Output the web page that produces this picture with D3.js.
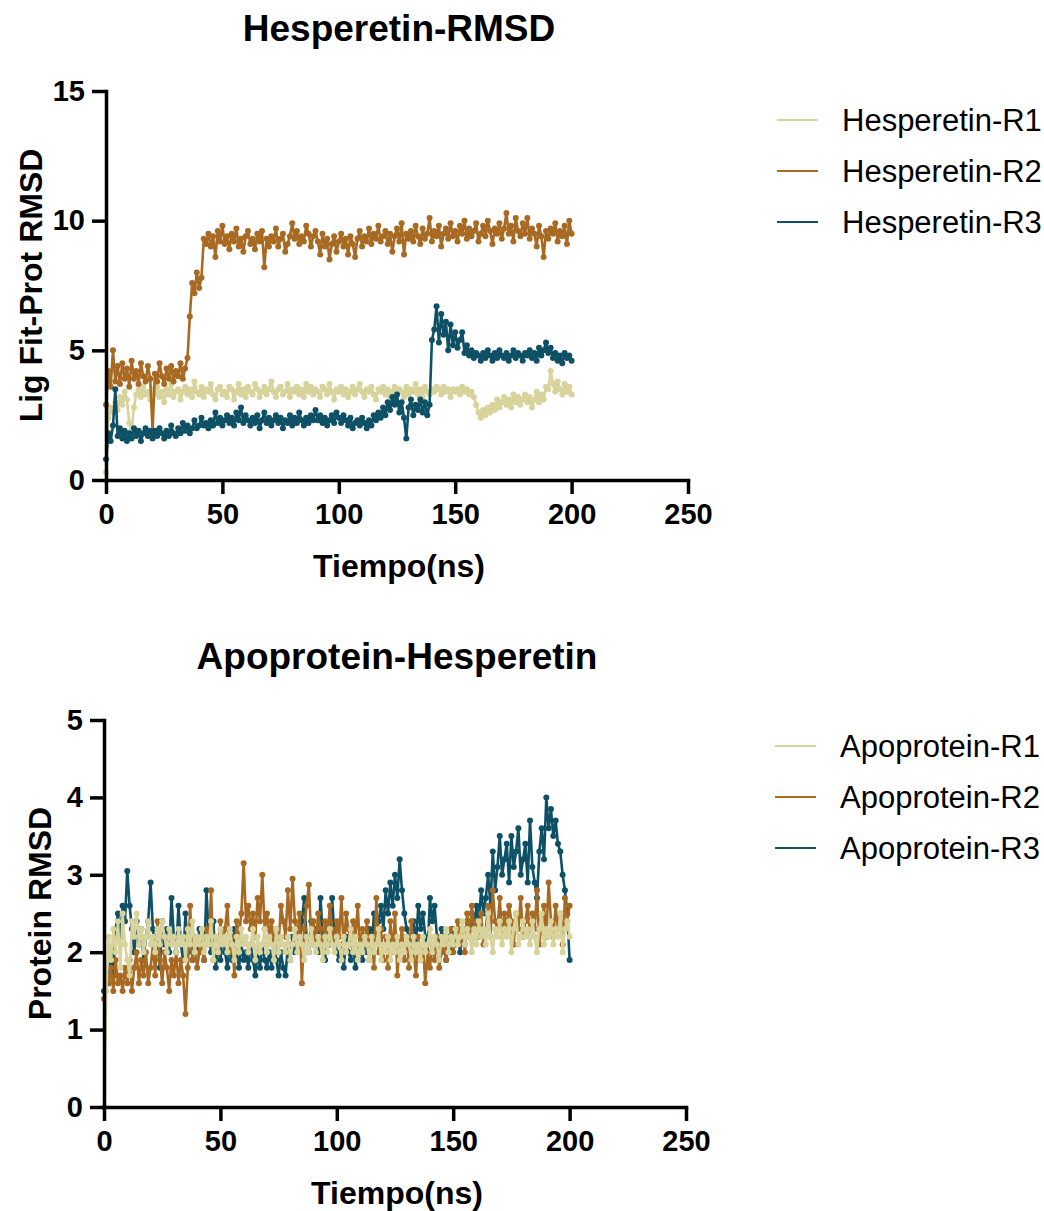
<!DOCTYPE html>
<html>
<head>
<meta charset="utf-8">
<script src="https://cdn.jsdelivr.net/npm/d3@7"></script>
<style>
body { margin: 0; background: #fff; }
text { font-family: "Liberation Sans", Arial, Helvetica, sans-serif; }
</style>
</head>
<body>
<script>
// time axis, one sample per ns
var timeNs = d3.range(0, 201);
var xTicks = [0, 50, 100, 150, 200, 250];

// Hesperetin ligand RMSD
var hesR1 = [0.3,
 2.4, 2.8, 2.6, 3.0, 2.7, 3.2, 2.9, 3.4, 3.1, 2.2,
 1.9, 2.8, 3.3, 3.5, 3.2, 3.6, 3.3, 3.4, 3.1, 3.5,
 3.3, 3.6, 3.2, 3.4, 3.0, 3.5, 3.3, 3.7, 3.2, 3.4,
 3.5, 3.1, 3.4, 3.6, 3.3, 3.5, 3.2, 3.8, 3.4, 3.3,
 3.6, 3.2, 3.5, 3.4, 3.7, 3.3, 3.1, 3.5, 3.6, 3.3,
 3.4, 3.2, 3.6, 3.5, 3.1, 3.4, 3.7, 3.3, 3.5, 3.2,
 3.6, 3.4, 3.3, 3.7, 3.5, 3.2, 3.4, 3.6, 3.3, 3.5,
 3.8, 3.4, 3.2, 3.5, 3.6, 3.3, 3.4, 3.7, 3.2, 3.5,
 3.4, 3.6, 3.3, 3.5, 3.2, 3.7, 3.4, 3.6, 3.3, 3.5,
 3.4, 3.2, 3.6, 3.5, 3.3, 3.7, 3.4, 3.1, 3.5, 3.4,
 3.6, 3.3, 3.5, 3.2, 3.4, 3.6, 3.3, 3.5, 3.7, 3.4,
 3.2, 3.5, 3.4, 3.6, 3.3, 3.1, 3.5, 3.4, 3.6, 3.3,
 3.5, 3.2, 3.4, 3.6, 3.3, 3.5, 3.4, 3.2, 3.6, 3.3,
 3.5, 3.4, 3.7, 3.3, 3.5, 3.2, 3.6, 3.4, 3.3, 3.5,
 3.4, 3.6, 3.5, 3.3, 3.6, 3.4, 3.5, 3.2, 3.5, 3.4,
 3.5, 3.3, 3.6, 3.4, 3.5, 3.3, 3.4, 3.2, 2.9, 2.6,
 2.4, 2.7, 2.5, 2.8, 2.6, 2.9, 2.7, 3.1, 2.8, 3.0,
 3.2, 2.9, 3.1, 2.8, 3.3, 3.0, 3.2, 2.9, 3.1, 3.3,
 3.0, 3.2, 2.8, 3.1, 3.4, 3.0, 3.3, 3.1, 3.6, 3.5,
 4.2, 3.7, 3.4, 3.8, 3.5, 3.3, 3.7, 3.4, 3.6, 3.3];
var hesR2 = [2.9,
 4.2, 3.6, 5.0, 3.8, 4.4, 3.7, 4.5, 3.9, 4.3, 3.6,
 4.6, 3.9, 4.2, 3.7, 4.5, 4.0, 3.8, 4.4, 3.9, 1.9,
 4.1, 3.8, 4.5, 4.0, 3.7, 4.3, 3.9, 4.4, 3.8, 4.2,
 4.0, 4.5, 3.9, 4.3, 4.7, 6.3, 7.6, 7.2, 8.0, 7.4,
 7.8, 9.3, 9.1, 9.5, 9.0, 9.4, 8.6, 9.6, 9.2, 9.8,
 9.1, 9.4, 8.9, 9.5, 9.2, 9.7, 9.0, 9.3, 8.8, 9.4,
 9.6, 9.1, 9.3, 8.9, 9.5, 9.2, 9.6, 8.2, 9.3, 9.0,
 9.4, 9.2, 9.7, 9.0, 9.3, 9.5, 8.8, 9.1, 9.4, 9.9,
 9.3, 9.6, 9.1, 9.4, 9.2, 9.8, 9.5, 9.0, 9.4, 9.6,
 9.2, 8.7, 9.5, 9.0, 9.3, 8.5, 9.1, 9.4, 8.8, 9.2,
 9.5, 9.0, 9.3, 8.7, 9.4, 9.1, 8.6, 9.3, 9.6, 9.0,
 9.4, 9.2, 9.7, 9.1, 9.5, 9.3, 9.8, 9.2, 9.4, 9.6,
 9.1, 9.5, 8.8, 9.4, 9.7, 9.2, 9.9, 8.7, 9.5, 9.3,
 9.6, 9.2, 9.8, 9.4, 9.1, 9.7, 9.3, 9.5, 10.1, 9.2,
 9.6, 9.4, 9.8, 9.0, 9.5, 9.7, 9.3, 9.9, 9.4, 9.6,
 9.2, 9.8, 9.5, 10.0, 9.3, 9.7, 9.4, 9.6, 9.9, 9.2,
 9.5, 9.8, 9.4, 10.0, 9.6, 9.1, 9.7, 9.5, 9.9, 9.3,
 9.7, 10.3, 9.5, 9.8, 9.2, 10.1, 9.6, 9.4, 9.9, 9.5,
 10.1, 9.3, 9.7, 9.5, 9.0, 9.8, 9.4, 8.6, 9.6, 9.3,
 9.7, 9.5, 9.9, 9.2, 9.6, 9.4, 9.8, 9.1, 10.0, 9.5];
var hesR3 = [0.8,
 1.8, 1.5, 2.1, 3.5, 1.7, 2.0, 1.6, 1.9, 1.5, 1.8,
 1.6, 2.0, 1.7, 1.9, 1.5, 1.8, 2.0, 1.7, 1.9, 1.6,
 1.9, 1.7, 2.0, 1.8, 1.6, 1.9, 1.7, 2.1, 1.8, 1.7,
 2.0, 1.8, 2.2, 1.9, 2.1, 1.8, 2.0, 2.3, 2.0, 2.1,
 2.4, 2.1, 2.2, 2.0, 2.3, 2.1, 2.6, 2.2, 2.4, 2.1,
 2.3, 2.5, 2.2, 2.4, 2.1, 2.6, 2.3, 2.8, 2.2, 2.5,
 2.3, 2.1, 2.4, 2.2, 2.5, 2.0, 2.3, 2.6, 2.2, 2.4,
 2.1, 2.3, 2.5, 2.2, 2.4, 2.0, 2.3, 2.2, 2.5, 2.1,
 2.4, 2.2, 2.6, 2.3, 2.1, 2.4, 2.2, 2.5, 2.3, 2.7,
 2.3, 2.5, 2.2, 2.4, 2.1, 2.3, 2.5, 2.2, 2.6, 2.4,
 2.2, 2.5, 2.3, 2.1, 2.4, 2.0, 2.2, 2.3, 2.1, 2.4,
 2.2, 2.0, 2.3, 2.1, 2.5, 2.3, 2.6, 2.4, 2.8, 2.5,
 3.0, 2.7, 3.2, 2.9, 3.3, 2.6, 3.0, 2.4, 1.6, 2.8,
 3.1, 2.5, 2.9, 2.7, 3.1, 2.6, 3.0, 2.5, 2.9, 5.4,
 5.8, 6.7, 5.3, 6.4, 5.6, 6.1, 5.0, 6.0, 5.2, 5.7,
 5.1, 5.4, 5.7, 4.9, 5.2, 4.8, 5.0, 4.7, 4.9, 4.8,
 4.6, 4.9, 4.7, 5.0, 4.8, 4.6, 4.9, 4.7, 5.0, 4.8,
 4.7, 4.9, 4.6, 4.8, 5.0, 4.7, 4.9, 4.8, 4.6, 4.9,
 4.8, 5.0, 4.7, 4.9, 4.6, 5.1, 4.8, 5.0, 5.3, 4.9,
 5.1, 4.7, 4.9, 4.6, 4.8, 4.5, 4.9, 4.7, 4.8, 4.6];

// Apoprotein RMSD
var apoR1 = [0.0,
 1.5, 2.2, 1.9, 2.3, 2.0, 2.4, 1.8, 2.5, 2.1, 1.9,
 1.7, 2.4, 2.2, 2.5, 2.1, 2.3, 2.0, 2.2, 2.4, 2.1,
 2.2, 2.0, 2.3, 2.1, 2.4, 2.2, 2.0, 2.3, 2.1, 2.2,
 2.0, 2.3, 2.1, 2.2, 1.9, 2.3, 2.1, 2.4, 2.0, 2.2,
 2.1, 2.3, 2.0, 2.2, 2.1, 2.4, 1.9, 2.2, 2.0, 2.3,
 2.1, 2.2, 2.0, 2.3, 2.1, 1.9, 2.2, 2.0, 2.3, 2.1,
 2.2, 2.0, 2.1, 2.3, 1.9, 2.2, 2.0, 2.1, 2.3, 2.0,
 2.2, 2.1, 1.9, 2.3, 2.0, 2.2, 2.1, 2.0, 2.2, 1.9,
 2.1, 2.3, 2.0, 2.2, 2.1, 1.9, 2.2, 2.0, 2.3, 2.1,
 2.0, 2.2, 2.1, 1.9, 2.2, 2.0, 2.3, 2.1, 2.0, 2.2,
 2.1, 1.9, 2.2, 2.0, 2.1, 2.3, 2.0, 2.2, 1.9, 2.1,
 2.0, 2.2, 2.1, 1.9, 2.2, 2.0, 2.1, 2.3, 1.9, 2.1,
 2.0, 2.2, 1.9, 2.1, 2.0, 2.2, 1.9, 2.1, 2.0, 2.2,
 2.1, 1.9, 2.2, 2.0, 2.1, 1.9, 2.2, 2.0, 2.1, 2.3,
 2.0, 2.2, 2.1, 1.9, 2.2, 2.1, 2.3, 2.0, 2.2, 2.1,
 2.3, 2.1, 2.2, 2.4, 2.1, 2.3, 2.2, 2.0, 2.3, 2.1,
 2.4, 2.2, 2.3, 2.1, 2.5, 2.2, 2.0, 2.3, 2.2, 2.4,
 2.1, 2.3, 2.2, 2.4, 2.0, 2.3, 2.5, 2.1, 2.2, 2.4,
 2.2, 2.3, 2.1, 2.4, 2.2, 2.0, 2.3, 2.5, 2.1, 2.3,
 2.2, 2.4, 2.1, 2.3, 2.2, 2.5, 2.0, 2.3, 2.4, 2.2];
var apoR2 = [1.4,
 1.7, 1.6, 1.8, 1.5, 1.9, 1.6, 1.7, 1.5, 1.8, 1.6,
 1.9, 1.5, 1.8, 2.0, 1.6, 1.9, 1.7, 2.0, 1.6, 1.8,
 2.1, 1.7, 2.4, 1.9, 1.6, 2.0, 1.8, 1.5, 1.9, 1.7,
 2.0, 1.6, 1.9, 1.7, 1.2, 1.8, 2.6, 1.9, 2.1, 1.8,
 2.0, 2.2, 1.9, 2.3, 2.1, 2.8, 1.9, 2.2, 2.0, 2.4,
 2.1, 2.3, 2.6, 2.0, 2.2, 1.7, 2.4, 2.2, 2.5, 3.15,
 2.4, 2.6, 2.3, 2.5, 2.2, 2.7, 2.4, 3.0, 2.3, 2.5,
 2.2, 2.4, 2.0, 2.3, 2.1, 2.6, 2.4, 2.2, 2.8, 2.3,
 2.95, 2.4, 2.2, 2.5, 1.6, 2.3, 2.6, 2.87, 2.2, 2.4,
 2.1, 2.5, 2.3, 2.0, 2.4, 2.2, 2.6, 2.3, 2.1, 2.4,
 2.2, 2.7, 2.0, 2.5, 2.3, 2.1, 2.4, 2.2, 2.6, 2.0,
 2.3, 2.1, 2.4, 1.9, 2.2, 1.8, 2.7, 2.0, 2.3, 1.9,
 2.2, 1.8, 2.4, 2.0, 2.5, 1.7, 2.1, 2.3, 1.9, 2.2,
 1.8, 2.4, 2.0, 1.7, 2.2, 1.9, 2.1, 1.6, 2.0, 1.8,
 2.1, 1.9, 2.2, 1.8, 2.0, 2.2, 1.9, 2.1, 2.3, 2.0,
 2.2, 2.4, 2.1, 2.3, 2.0, 2.5, 2.2, 2.6, 2.3, 2.4,
 2.2, 2.5, 2.1, 2.3, 2.6, 2.2, 2.8, 2.4, 2.3, 2.7,
 2.2, 2.5, 2.3, 2.6, 2.4, 2.1, 2.5, 2.3, 2.7, 2.2,
 2.4, 2.6, 2.2, 2.5, 2.3, 2.8, 2.1, 2.4, 2.6, 2.2,
 2.9, 2.4, 2.2, 2.6, 2.3, 2.5, 2.1, 2.7, 2.4, 2.6];
var apoR3 = [1.5,
 1.8, 1.6, 2.0, 1.7, 2.3, 2.5, 2.2, 2.6, 2.4, 3.05,
 2.6, 2.3, 2.0, 2.4, 2.1, 2.3, 1.9, 2.2, 2.4, 2.9,
 2.3, 2.0, 2.2, 1.8, 2.4, 2.1, 2.3, 2.0, 2.7, 2.2,
 2.0, 2.6, 2.1, 1.9, 2.5, 2.0, 2.3, 1.9, 2.2, 2.0,
 2.3, 2.1, 1.9, 2.8, 2.2, 2.0, 2.4, 1.8, 2.1, 1.9,
 2.2, 2.0, 1.8, 2.1, 1.9, 2.3, 2.0, 1.8, 2.1, 1.9,
 2.0, 1.8, 2.1, 1.9, 1.7, 2.0, 1.8, 2.1, 1.9, 1.8,
 2.0, 1.8, 2.2, 1.9, 1.7, 2.0, 1.8, 1.7, 2.1, 1.9,
 2.2, 2.0, 2.3, 2.1, 2.4, 2.7, 2.2, 2.0, 2.4, 2.1,
 2.3, 2.0, 2.7, 2.2, 1.9, 2.3, 2.1, 2.7, 2.2, 2.0,
 1.9, 2.1, 1.8, 2.2, 2.0, 1.9, 2.1, 1.8, 2.0, 2.2,
 1.9, 2.2, 2.0, 2.3, 2.1, 2.5, 2.2, 2.4, 2.6, 2.3,
 2.8, 2.5, 2.9, 2.6, 3.0, 2.7, 3.2, 2.8, 2.5, 2.3,
 2.2, 2.0, 2.4, 2.1, 2.6, 2.3, 2.5, 2.2, 2.0, 2.7,
 2.4, 2.6, 2.2, 2.0, 2.3, 2.1, 1.9, 2.2, 2.0, 2.3,
 2.1, 2.2, 2.0, 2.3, 2.1, 2.4, 2.2, 2.5, 2.3, 2.6,
 2.4, 2.8, 2.5, 2.7, 3.0, 2.6, 3.3, 2.8, 3.1, 3.5,
 3.0, 3.2, 3.4, 2.9, 3.5, 3.1, 3.3, 3.6, 3.0, 3.2,
 3.4, 2.9, 3.7, 3.1, 2.9, 2.7, 3.3, 3.6, 3.2, 4.0,
 3.6, 3.85, 3.5, 3.7, 3.4, 3.3, 3.0, 2.8, 2.5, 1.9];

var colR1 = "#d7d39b", colR2 = "#a86a22", colR3 = "#0e5166";

var width = 1044, height = 1211;
var svg = d3.select("body").append("svg")
	.attr("width", width)
	.attr("height", height);

var panels = [
	{
		title: "Hesperetin-RMSD", yLabel: "Lig Fit-Prot RMSD",
		yMax: 15, yTicks: [0, 5, 10, 15],
		left: 106, right: 688, top: 91, bottom: 480,
		titleY: 41, yLabelX: 42,
		legendX: 777, legendY: 120,
		series: [
			{name: "Hesperetin-R1", values: hesR1, color: colR1},
			{name: "Hesperetin-R2", values: hesR2, color: colR2},
			{name: "Hesperetin-R3", values: hesR3, color: colR3}
		],
		drawOrder: [0, 1, 2]
	},
	{
		title: "Apoprotein-Hesperetin", yLabel: "Protein RMSD",
		yMax: 5, yTicks: [0, 1, 2, 3, 4, 5],
		left: 104, right: 686, top: 720, bottom: 1107,
		titleY: 669, yLabelX: 51,
		legendX: 775, legendY: 746,
		series: [
			{name: "Apoprotein-R1", values: apoR1, color: colR1},
			{name: "Apoprotein-R2", values: apoR2, color: colR2},
			{name: "Apoprotein-R3", values: apoR3, color: colR3}
		],
		drawOrder: [2, 1, 0]
	}
];

panels.forEach(drawPanel);

function drawPanel(p) {
	var x = d3.scaleLinear().domain([0, 250]).range([p.left, p.right]);
	var y = d3.scaleLinear().domain([0, p.yMax]).range([p.bottom, p.top]);
	var g = svg.append("g");

	var line = d3.line()
		.x(function(d, i) { return x(timeNs[i]); })
		.y(function(d) { return y(d); });

	//data lines with point markers
	p.drawOrder.forEach(function(k) {
		var s = p.series[k];
		g.append("path")
			.datum(s.values)
			.attr("d", line)
			.attr("fill", "none")
			.attr("stroke", s.color)
			.attr("stroke-width", 2.6)
			.attr("stroke-linejoin", "round");
		g.selectAll(".pt" + k)
			.data(s.values)
			.enter().append("circle")
			.attr("class", "pt" + k)
			.attr("cx", function(d, i) { return x(timeNs[i]); })
			.attr("cy", function(d) { return y(d); })
			.attr("r", 3)
			.attr("fill", s.color);
	});

	var xAxis = g.append("g")
		.attr("transform", "translate(0," + p.bottom + ")")
		.call(d3.axisBottom(x).tickValues(xTicks).tickSize(14).tickSizeOuter(0).tickPadding(9));
	var yAxis = g.append("g")
		.attr("transform", "translate(" + p.left + ",0)")
		.call(d3.axisLeft(y).tickValues(p.yTicks).tickFormat(d3.format("d")).tickSize(14).tickSizeOuter(0).tickPadding(7));

	[xAxis, yAxis].forEach(function(a) {
		a.select(".domain").attr("stroke", "#000").attr("stroke-width", 3.5).attr("stroke-linecap", "square");
		a.selectAll(".tick line").attr("stroke", "#000").attr("stroke-width", 3.5);
		a.selectAll(".tick text")
			.attr("fill", "#000")
			.style("font-size", "29px")
			.style("font-weight", "bold");
	});

	g.append("text")
		.attr("x", (p.left + p.right) / 2 + 2)
		.attr("y", p.titleY)
		.attr("text-anchor", "middle")
		.style("font-size", "37px")
		.style("font-weight", "bold")
		.text(p.title);

	g.append("text")
		.attr("x", (p.left + p.right) / 2 + 2)
		.attr("y", p.bottom + 97)
		.attr("text-anchor", "middle")
		.style("font-size", "32px")
		.style("font-weight", "bold")
		.text("Tiempo(ns)");

	g.append("text")
		.attr("transform", "translate(" + p.yLabelX + "," + ((p.top + p.bottom) / 2) + ") rotate(-90)")
		.attr("text-anchor", "middle")
		.style("font-size", "32px")
		.style("font-weight", "bold")
		.text(p.yLabel);

	//legend
	var leg = g.selectAll(".leg")
		.data(p.series)
		.enter().append("g")
		.attr("transform", function(d, i) { return "translate(" + p.legendX + "," + (p.legendY + i * 51) + ")"; });
	leg.append("line")
		.attr("x1", 0).attr("x2", 41)
		.attr("stroke", function(d) { return d.color; })
		.attr("stroke-width", 2);
	leg.append("text")
		.attr("x", 65)
		.attr("dy", "0.36em")
		.style("font-size", "31px")
		.text(function(d) { return d.name; });
}
</script>
</body>
</html>
